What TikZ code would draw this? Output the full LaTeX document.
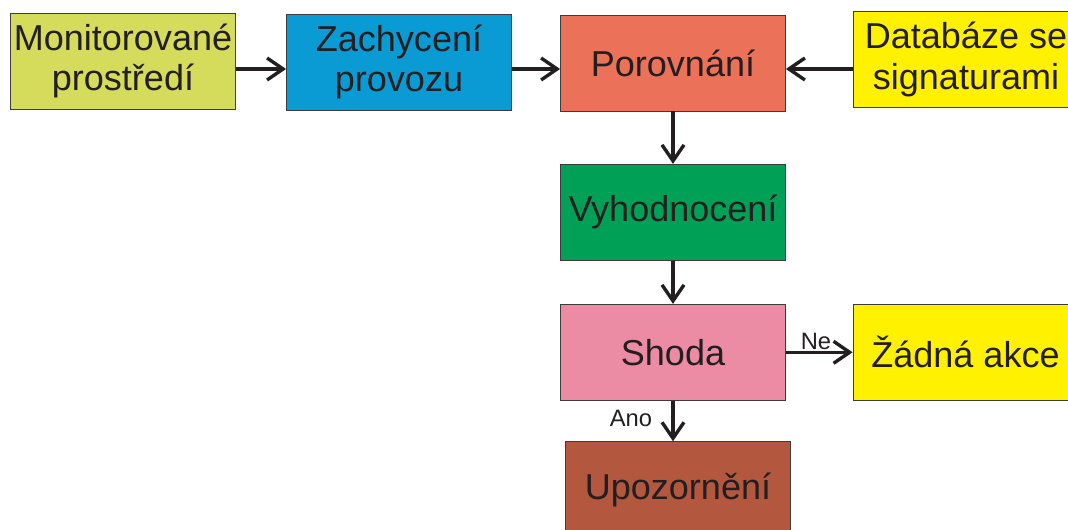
\documentclass[tikz,border=0pt]{standalone}
\usepackage{fontspec}
\setmainfont{Liberation Sans}
\usetikzlibrary{arrows.meta}
\definecolor{cmon}{HTML}{D5DB5B}
\definecolor{czach}{HTML}{0A9AD4}
\definecolor{cpor}{HTML}{EB7159}
\definecolor{cyel}{HTML}{FFF100}
\definecolor{cvyh}{HTML}{00A057}
\definecolor{cshoda}{HTML}{EC8BA4}
\definecolor{cupo}{HTML}{B3573F}
\definecolor{cline}{HTML}{231F20}
\definecolor{cbord}{HTML}{3C3C3C}
\tikzset{
  box/.style={draw=cbord, line width=0.5pt, minimum width=4.5cm, minimum height=1.92cm,
    inner sep=0pt, align=center, text=cline,
    font=\fontsize{20.5}{22.8}\selectfont},
  arr/.style={draw=cline, line width=0.068cm,
    -{Straight Barb[length=0.32cm, width=0.44cm]}},
  lbl/.style={inner sep=0pt, text=cline, font=\fontsize{13.5}{15}\selectfont}
}
\begin{document}
\begin{tikzpicture}[x=0.02cm, y=-0.02cm]
\useasboundingbox (0,0) rectangle (1068,530);
\node[box, fill=cmon] (mon) at (123,61) {Monitorované\\prostředí};
\node[box, fill=czach] (zach) at (399,62) {Zachycení\\provozu};
\node[box, fill=cpor] (por) at (673,63) {Porovnání};
\node[box, fill=cyel] (db) at (966,59.5) {Databáze se\\signaturami};
\node[box, fill=cvyh] (vyh) at (673,212.3) {Vyhodnocení};
\node[box, fill=cshoda] (shoda) at (673,352.3) {Shoda};
\node[box, fill=cyel] (zadna) at (965.5,352.3) {Žádná akce};
\node[box, fill=cupo] (upo) at (678,489.7) {Upozornění};

\draw[arr] (mon.east |- 0,69) -- (zach.west |- 0,69);
\draw[arr] (zach.east |- 0,69) -- (por.west |- 0,69);
\draw[arr] (db.west |- 0,69) -- (por.east |- 0,69);
\draw[arr] (por.south) -- (vyh.north);
\draw[arr] (vyh.south) -- (shoda.north);
\draw[arr] (shoda.east) -- (zadna.west);
\draw[arr] (shoda.south) -- (shoda.south |- upo.north);

\node[lbl, anchor=base] (ne) at (816,349.3) {Ne};
\node[lbl, anchor=base] (ano) at (631,426.7) {Ano};
\end{tikzpicture}
\end{document}
